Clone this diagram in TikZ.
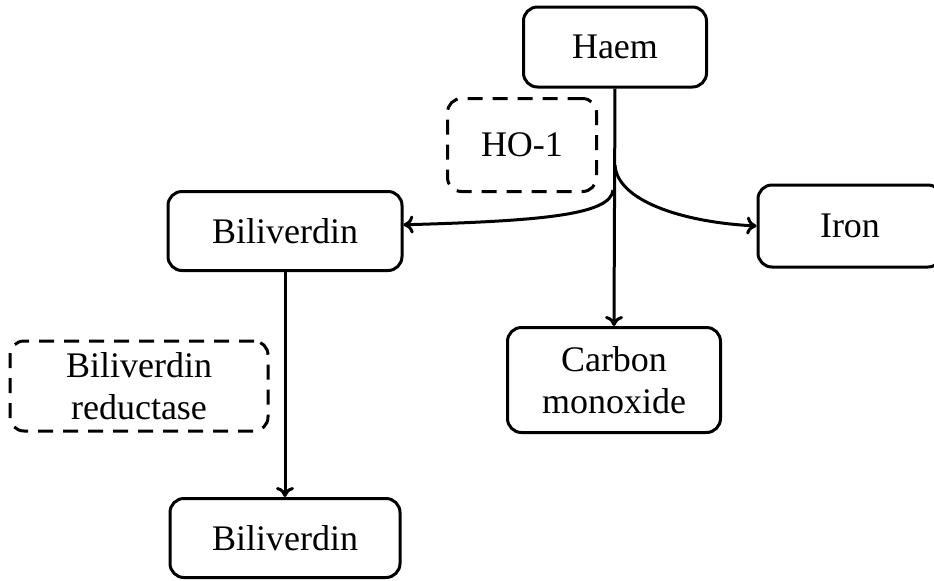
\documentclass[tikz,border=0pt]{standalone}
\usepackage{fontspec}
\setmainfont{Liberation Serif}
\usepackage{tikz}
\usetikzlibrary{arrows.meta, positioning}

\begin{document}
\begin{tikzpicture}[x=0.5pt, y=-0.5pt,
    box/.style={rectangle, rounded corners=7pt, draw=black, line width=1.5pt,
          font=\fontsize{18}{21}\selectfont, align=center, inner sep=0pt},
    enzyme/.style={box, dashed, dash pattern=on 7.5pt off 5pt},
    flow/.style={line width=1.5pt, -{To[length=5pt,width=9pt]}}]
    \useasboundingbox (0,0) rectangle (934,580);
    % metabolites
    \node[box, minimum width=91.5pt, minimum height=40pt] (haem) at (615,47) {Haem};
    \node[box, minimum width=117pt, minimum height=39.5pt] (bil) at (285,231) {Biliverdin};
    \node[box, minimum width=92pt, minimum height=41pt] (iron) at (850,226) {Iron};
    \node[box, minimum width=106.5pt, minimum height=52.5pt] (co) at (614,380) {Carbon\\monoxide};
    \node[box, minimum width=115pt, minimum height=39.5pt] (bil2) at (285,538) {Biliverdin};
    % enzymes
    \node[enzyme, minimum width=74.5pt, minimum height=46.5pt] (ho) at (522,145) {HO-1};
    \node[enzyme, minimum width=129pt, minimum height=45pt] (bvr) at (139,386) {Biliverdin\\reductase};
    % branch points on the haem line
    \coordinate (forkR) at (615,165);
    \coordinate (forkL) at (613,190);
    \draw[flow] (haem.south) -- (co.north);
    \draw[flow] (forkR) .. controls (617,200) and (680,222) .. (iron.west);
    \draw[flow] (forkL) .. controls (611,215) and (540,221) .. (bil.3);
    \draw[flow] (bil.south) -- (bil2.north);
\end{tikzpicture}
\end{document}
